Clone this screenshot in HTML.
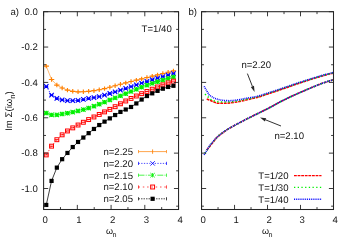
<!DOCTYPE html>
<html><head><meta charset="utf-8"><title>plot</title>
<style>
html,body{margin:0;padding:0;background:#fff;}
body{width:350px;height:246px;overflow:hidden;}
.t{font-family:"Liberation Sans",sans-serif;font-size:9.6px;fill:#141414;text-rendering:geometricPrecision;}
</style></head><body>
<div style="will-change:transform;position:absolute;left:0;top:0;width:350px;height:246px">
<svg width="350" height="246" viewBox="0 0 350 246" style="display:block">
<defs><clipPath id="cl"><rect x="43.6" y="11.7" width="134.95000000000002" height="197.8"/></clipPath><clipPath id="cr"><rect x="201.55" y="11.7" width="131.95" height="197.8"/></clipPath></defs>
<path d="M46.25 66.13L51.55 79.53L56.85 85.06L62.15 88.04L67.45 90.11L72.75 91.31L78.05 91.80L83.35 91.70L88.65 91.30L93.95 90.69L99.24 89.79L104.54 88.59L109.84 87.21L115.14 85.73L120.44 84.28L125.74 82.90L131.04 81.54L136.34 80.19L141.64 78.85L146.94 77.52L152.24 76.18L157.54 74.85L162.84 73.53L168.14 72.22L173.44 70.91" stroke="#ff8000" stroke-width="0.55" fill="none"/>
<path d="M43.55 66.13H48.95M46.25 63.93V68.33" stroke="#ff8000" stroke-width="1.15" fill="none"/>
<path d="M48.85 79.53H54.25M51.55 77.33V81.73" stroke="#ff8000" stroke-width="1.15" fill="none"/>
<path d="M54.15 85.06H59.55M56.85 82.86V87.26" stroke="#ff8000" stroke-width="1.15" fill="none"/>
<path d="M59.45 88.04H64.85M62.15 85.84V90.24" stroke="#ff8000" stroke-width="1.15" fill="none"/>
<path d="M64.75 90.11H70.15M67.45 87.91V92.31" stroke="#ff8000" stroke-width="1.15" fill="none"/>
<path d="M70.05 91.31H75.45M72.75 89.11V93.51" stroke="#ff8000" stroke-width="1.15" fill="none"/>
<path d="M75.35 91.80H80.75M78.05 89.60V94.00" stroke="#ff8000" stroke-width="1.15" fill="none"/>
<path d="M80.65 91.70H86.05M83.35 89.50V93.90" stroke="#ff8000" stroke-width="1.15" fill="none"/>
<path d="M85.95 91.30H91.35M88.65 89.10V93.50" stroke="#ff8000" stroke-width="1.15" fill="none"/>
<path d="M91.25 90.69H96.65M93.95 88.49V92.89" stroke="#ff8000" stroke-width="1.15" fill="none"/>
<path d="M96.54 89.79H101.94M99.24 87.59V91.99" stroke="#ff8000" stroke-width="1.15" fill="none"/>
<path d="M101.84 88.59H107.24M104.54 86.39V90.79" stroke="#ff8000" stroke-width="1.15" fill="none"/>
<path d="M107.14 87.21H112.54M109.84 85.01V89.41" stroke="#ff8000" stroke-width="1.15" fill="none"/>
<path d="M112.44 85.73H117.84M115.14 83.53V87.93" stroke="#ff8000" stroke-width="1.15" fill="none"/>
<path d="M117.74 84.28H123.14M120.44 82.08V86.48" stroke="#ff8000" stroke-width="1.15" fill="none"/>
<path d="M123.04 82.90H128.44M125.74 80.70V85.10" stroke="#ff8000" stroke-width="1.15" fill="none"/>
<path d="M128.34 81.54H133.74M131.04 79.34V83.74" stroke="#ff8000" stroke-width="1.15" fill="none"/>
<path d="M133.64 80.19H139.04M136.34 77.99V82.39" stroke="#ff8000" stroke-width="1.15" fill="none"/>
<path d="M138.94 78.85H144.34M141.64 76.65V81.05" stroke="#ff8000" stroke-width="1.15" fill="none"/>
<path d="M144.24 77.52H149.64M146.94 75.32V79.72" stroke="#ff8000" stroke-width="1.15" fill="none"/>
<path d="M149.54 76.18H154.94M152.24 73.98V78.38" stroke="#ff8000" stroke-width="1.15" fill="none"/>
<path d="M154.84 74.85H160.24M157.54 72.65V77.05" stroke="#ff8000" stroke-width="1.15" fill="none"/>
<path d="M160.14 73.53H165.54M162.84 71.33V75.73" stroke="#ff8000" stroke-width="1.15" fill="none"/>
<path d="M165.44 72.22H170.84M168.14 70.02V74.42" stroke="#ff8000" stroke-width="1.15" fill="none"/>
<path d="M170.74 70.91H176.14M173.44 68.71V73.11" stroke="#ff8000" stroke-width="1.15" fill="none"/>
<path d="M46.25 86.32L51.55 95.18L56.85 98.33L62.15 99.82L67.45 100.60L72.75 100.70L78.05 100.30L83.35 99.46L88.65 98.43L93.95 97.56L99.24 96.59L104.54 95.19L109.84 93.50L115.14 91.84L120.44 90.16L125.74 88.42L131.04 86.64L136.34 84.85L141.64 83.10L146.94 81.42L152.24 79.78L157.54 78.15L162.84 76.57L168.14 75.08L173.44 73.71" stroke="#0000ff" stroke-width="0.75" fill="none" stroke-dasharray="1.3,1.4"/>
<path d="M44.00 84.07L48.50 88.57M44.00 88.57L48.50 84.07M44.35 86.32H48.15" stroke="#0000ff" stroke-width="1.15" fill="none"/>
<path d="M49.30 92.93L53.80 97.43M49.30 97.43L53.80 92.93M49.65 95.18H53.45" stroke="#0000ff" stroke-width="1.15" fill="none"/>
<path d="M54.60 96.08L59.10 100.58M54.60 100.58L59.10 96.08M54.95 98.33H58.75" stroke="#0000ff" stroke-width="1.15" fill="none"/>
<path d="M59.90 97.57L64.40 102.07M59.90 102.07L64.40 97.57M60.25 99.82H64.05" stroke="#0000ff" stroke-width="1.15" fill="none"/>
<path d="M65.20 98.35L69.70 102.85M65.20 102.85L69.70 98.35M65.55 100.60H69.35" stroke="#0000ff" stroke-width="1.15" fill="none"/>
<path d="M70.50 98.45L75.00 102.95M70.50 102.95L75.00 98.45M70.85 100.70H74.65" stroke="#0000ff" stroke-width="1.15" fill="none"/>
<path d="M75.80 98.05L80.30 102.55M75.80 102.55L80.30 98.05M76.15 100.30H79.95" stroke="#0000ff" stroke-width="1.15" fill="none"/>
<path d="M81.10 97.21L85.60 101.71M81.10 101.71L85.60 97.21M81.45 99.46H85.25" stroke="#0000ff" stroke-width="1.15" fill="none"/>
<path d="M86.40 96.18L90.90 100.68M86.40 100.68L90.90 96.18M86.75 98.43H90.55" stroke="#0000ff" stroke-width="1.15" fill="none"/>
<path d="M91.70 95.31L96.20 99.81M91.70 99.81L96.20 95.31M92.05 97.56H95.85" stroke="#0000ff" stroke-width="1.15" fill="none"/>
<path d="M96.99 94.34L101.49 98.84M96.99 98.84L101.49 94.34M97.34 96.59H101.14" stroke="#0000ff" stroke-width="1.15" fill="none"/>
<path d="M102.29 92.94L106.79 97.44M102.29 97.44L106.79 92.94M102.64 95.19H106.44" stroke="#0000ff" stroke-width="1.15" fill="none"/>
<path d="M107.59 91.25L112.09 95.75M107.59 95.75L112.09 91.25M107.94 93.50H111.74" stroke="#0000ff" stroke-width="1.15" fill="none"/>
<path d="M112.89 89.59L117.39 94.09M112.89 94.09L117.39 89.59M113.24 91.84H117.04" stroke="#0000ff" stroke-width="1.15" fill="none"/>
<path d="M118.19 87.91L122.69 92.41M118.19 92.41L122.69 87.91M118.54 90.16H122.34" stroke="#0000ff" stroke-width="1.15" fill="none"/>
<path d="M123.49 86.17L127.99 90.67M123.49 90.67L127.99 86.17M123.84 88.42H127.64" stroke="#0000ff" stroke-width="1.15" fill="none"/>
<path d="M128.79 84.39L133.29 88.89M128.79 88.89L133.29 84.39M129.14 86.64H132.94" stroke="#0000ff" stroke-width="1.15" fill="none"/>
<path d="M134.09 82.60L138.59 87.10M134.09 87.10L138.59 82.60M134.44 84.85H138.24" stroke="#0000ff" stroke-width="1.15" fill="none"/>
<path d="M139.39 80.85L143.89 85.35M139.39 85.35L143.89 80.85M139.74 83.10H143.54" stroke="#0000ff" stroke-width="1.15" fill="none"/>
<path d="M144.69 79.17L149.19 83.67M144.69 83.67L149.19 79.17M145.04 81.42H148.84" stroke="#0000ff" stroke-width="1.15" fill="none"/>
<path d="M149.99 77.53L154.49 82.03M149.99 82.03L154.49 77.53M150.34 79.78H154.14" stroke="#0000ff" stroke-width="1.15" fill="none"/>
<path d="M155.29 75.90L159.79 80.40M155.29 80.40L159.79 75.90M155.64 78.15H159.44" stroke="#0000ff" stroke-width="1.15" fill="none"/>
<path d="M160.59 74.32L165.09 78.82M160.59 78.82L165.09 74.32M160.94 76.57H164.74" stroke="#0000ff" stroke-width="1.15" fill="none"/>
<path d="M165.89 72.83L170.39 77.33M165.89 77.33L170.39 72.83M166.24 75.08H170.04" stroke="#0000ff" stroke-width="1.15" fill="none"/>
<path d="M171.19 71.46L175.69 75.96M171.19 75.96L175.69 71.46M171.54 73.71H175.34" stroke="#0000ff" stroke-width="1.15" fill="none"/>
<path d="M46.25 113.05L51.55 114.90L56.85 114.90L62.15 113.99L67.45 113.19L72.75 112.16L78.05 110.96L83.35 109.60L88.65 108.05L93.95 106.22L99.24 104.18L104.54 102.10L109.84 99.94L115.14 97.85L120.44 95.83L125.74 93.69L131.04 91.49L136.34 89.29L141.64 87.18L146.94 85.22L152.24 83.41L157.54 81.68L162.84 80.03L168.14 78.48L173.44 77.02" stroke="#00f000" stroke-width="0.75" fill="none" stroke-dasharray="6,1.2,1,1.2"/>
<path d="M44.05 110.85L48.45 115.25M44.05 115.25L48.45 110.85M43.75 113.05H48.75M46.25 110.85V115.25" stroke="#00f000" stroke-width="1.15" fill="none"/>
<path d="M49.35 112.70L53.75 117.10M49.35 117.10L53.75 112.70M49.05 114.90H54.05M51.55 112.70V117.10" stroke="#00f000" stroke-width="1.15" fill="none"/>
<path d="M54.65 112.70L59.05 117.10M54.65 117.10L59.05 112.70M54.35 114.90H59.35M56.85 112.70V117.10" stroke="#00f000" stroke-width="1.15" fill="none"/>
<path d="M59.95 111.79L64.35 116.19M59.95 116.19L64.35 111.79M59.65 113.99H64.65M62.15 111.79V116.19" stroke="#00f000" stroke-width="1.15" fill="none"/>
<path d="M65.25 110.99L69.65 115.39M65.25 115.39L69.65 110.99M64.95 113.19H69.95M67.45 110.99V115.39" stroke="#00f000" stroke-width="1.15" fill="none"/>
<path d="M70.55 109.96L74.95 114.36M70.55 114.36L74.95 109.96M70.25 112.16H75.25M72.75 109.96V114.36" stroke="#00f000" stroke-width="1.15" fill="none"/>
<path d="M75.85 108.76L80.25 113.16M75.85 113.16L80.25 108.76M75.55 110.96H80.55M78.05 108.76V113.16" stroke="#00f000" stroke-width="1.15" fill="none"/>
<path d="M81.15 107.40L85.55 111.80M81.15 111.80L85.55 107.40M80.85 109.60H85.85M83.35 107.40V111.80" stroke="#00f000" stroke-width="1.15" fill="none"/>
<path d="M86.45 105.85L90.85 110.25M86.45 110.25L90.85 105.85M86.15 108.05H91.15M88.65 105.85V110.25" stroke="#00f000" stroke-width="1.15" fill="none"/>
<path d="M91.75 104.02L96.15 108.42M91.75 108.42L96.15 104.02M91.45 106.22H96.45M93.95 104.02V108.42" stroke="#00f000" stroke-width="1.15" fill="none"/>
<path d="M97.04 101.98L101.44 106.38M97.04 106.38L101.44 101.98M96.74 104.18H101.74M99.24 101.98V106.38" stroke="#00f000" stroke-width="1.15" fill="none"/>
<path d="M102.34 99.90L106.74 104.30M102.34 104.30L106.74 99.90M102.04 102.10H107.04M104.54 99.90V104.30" stroke="#00f000" stroke-width="1.15" fill="none"/>
<path d="M107.64 97.74L112.04 102.14M107.64 102.14L112.04 97.74M107.34 99.94H112.34M109.84 97.74V102.14" stroke="#00f000" stroke-width="1.15" fill="none"/>
<path d="M112.94 95.65L117.34 100.05M112.94 100.05L117.34 95.65M112.64 97.85H117.64M115.14 95.65V100.05" stroke="#00f000" stroke-width="1.15" fill="none"/>
<path d="M118.24 93.63L122.64 98.03M118.24 98.03L122.64 93.63M117.94 95.83H122.94M120.44 93.63V98.03" stroke="#00f000" stroke-width="1.15" fill="none"/>
<path d="M123.54 91.49L127.94 95.89M123.54 95.89L127.94 91.49M123.24 93.69H128.24M125.74 91.49V95.89" stroke="#00f000" stroke-width="1.15" fill="none"/>
<path d="M128.84 89.29L133.24 93.69M128.84 93.69L133.24 89.29M128.54 91.49H133.54M131.04 89.29V93.69" stroke="#00f000" stroke-width="1.15" fill="none"/>
<path d="M134.14 87.09L138.54 91.49M134.14 91.49L138.54 87.09M133.84 89.29H138.84M136.34 87.09V91.49" stroke="#00f000" stroke-width="1.15" fill="none"/>
<path d="M139.44 84.98L143.84 89.38M139.44 89.38L143.84 84.98M139.14 87.18H144.14M141.64 84.98V89.38" stroke="#00f000" stroke-width="1.15" fill="none"/>
<path d="M144.74 83.02L149.14 87.42M144.74 87.42L149.14 83.02M144.44 85.22H149.44M146.94 83.02V87.42" stroke="#00f000" stroke-width="1.15" fill="none"/>
<path d="M150.04 81.21L154.44 85.61M150.04 85.61L154.44 81.21M149.74 83.41H154.74M152.24 81.21V85.61" stroke="#00f000" stroke-width="1.15" fill="none"/>
<path d="M155.34 79.48L159.74 83.88M155.34 83.88L159.74 79.48M155.04 81.68H160.04M157.54 79.48V83.88" stroke="#00f000" stroke-width="1.15" fill="none"/>
<path d="M160.64 77.83L165.04 82.23M160.64 82.23L165.04 77.83M160.34 80.03H165.34M162.84 77.83V82.23" stroke="#00f000" stroke-width="1.15" fill="none"/>
<path d="M165.94 76.28L170.34 80.68M165.94 80.68L170.34 76.28M165.64 78.48H170.64M168.14 76.28V80.68" stroke="#00f000" stroke-width="1.15" fill="none"/>
<path d="M171.24 74.82L175.64 79.22M171.24 79.22L175.64 74.82M170.94 77.02H175.94M173.44 74.82V79.22" stroke="#00f000" stroke-width="1.15" fill="none"/>
<path d="M46.25 154.91L51.55 146.17L56.85 139.71L62.15 134.84L67.45 130.97L72.75 127.87L78.05 125.02L83.35 122.26L88.65 119.58L93.95 116.98L99.24 114.45L104.54 111.90L109.84 109.37L115.14 106.69L120.44 103.78L125.74 100.98L131.04 98.43L136.34 96.00L141.64 93.67L146.94 91.43L152.24 89.20L157.54 86.98L162.84 84.85L168.14 82.88L173.44 81.14" stroke="#ff0000" stroke-width="0.75" fill="none" stroke-dasharray="1.5,2.8"/>
<rect x="44.30" y="152.96" width="3.90" height="3.90" stroke="#ff0000" stroke-width="1.0" fill="none"/><path d="M44.30 154.91H48.20" stroke="#ff0000" stroke-width="1.0"/>
<rect x="49.60" y="144.22" width="3.90" height="3.90" stroke="#ff0000" stroke-width="1.0" fill="none"/><path d="M49.60 146.17H53.50" stroke="#ff0000" stroke-width="1.0"/>
<rect x="54.90" y="137.76" width="3.90" height="3.90" stroke="#ff0000" stroke-width="1.0" fill="none"/><path d="M54.90 139.71H58.80" stroke="#ff0000" stroke-width="1.0"/>
<rect x="60.20" y="132.89" width="3.90" height="3.90" stroke="#ff0000" stroke-width="1.0" fill="none"/><path d="M60.20 134.84H64.10" stroke="#ff0000" stroke-width="1.0"/>
<rect x="65.50" y="129.02" width="3.90" height="3.90" stroke="#ff0000" stroke-width="1.0" fill="none"/><path d="M65.50 130.97H69.40" stroke="#ff0000" stroke-width="1.0"/>
<rect x="70.80" y="125.92" width="3.90" height="3.90" stroke="#ff0000" stroke-width="1.0" fill="none"/><path d="M70.80 127.87H74.70" stroke="#ff0000" stroke-width="1.0"/>
<rect x="76.10" y="123.07" width="3.90" height="3.90" stroke="#ff0000" stroke-width="1.0" fill="none"/><path d="M76.10 125.02H80.00" stroke="#ff0000" stroke-width="1.0"/>
<rect x="81.40" y="120.31" width="3.90" height="3.90" stroke="#ff0000" stroke-width="1.0" fill="none"/><path d="M81.40 122.26H85.30" stroke="#ff0000" stroke-width="1.0"/>
<rect x="86.70" y="117.63" width="3.90" height="3.90" stroke="#ff0000" stroke-width="1.0" fill="none"/><path d="M86.70 119.58H90.60" stroke="#ff0000" stroke-width="1.0"/>
<rect x="92.00" y="115.03" width="3.90" height="3.90" stroke="#ff0000" stroke-width="1.0" fill="none"/><path d="M92.00 116.98H95.90" stroke="#ff0000" stroke-width="1.0"/>
<rect x="97.29" y="112.50" width="3.90" height="3.90" stroke="#ff0000" stroke-width="1.0" fill="none"/><path d="M97.29 114.45H101.19" stroke="#ff0000" stroke-width="1.0"/>
<rect x="102.59" y="109.95" width="3.90" height="3.90" stroke="#ff0000" stroke-width="1.0" fill="none"/><path d="M102.59 111.90H106.49" stroke="#ff0000" stroke-width="1.0"/>
<rect x="107.89" y="107.42" width="3.90" height="3.90" stroke="#ff0000" stroke-width="1.0" fill="none"/><path d="M107.89 109.37H111.79" stroke="#ff0000" stroke-width="1.0"/>
<rect x="113.19" y="104.74" width="3.90" height="3.90" stroke="#ff0000" stroke-width="1.0" fill="none"/><path d="M113.19 106.69H117.09" stroke="#ff0000" stroke-width="1.0"/>
<rect x="118.49" y="101.83" width="3.90" height="3.90" stroke="#ff0000" stroke-width="1.0" fill="none"/><path d="M118.49 103.78H122.39" stroke="#ff0000" stroke-width="1.0"/>
<rect x="123.79" y="99.03" width="3.90" height="3.90" stroke="#ff0000" stroke-width="1.0" fill="none"/><path d="M123.79 100.98H127.69" stroke="#ff0000" stroke-width="1.0"/>
<rect x="129.09" y="96.48" width="3.90" height="3.90" stroke="#ff0000" stroke-width="1.0" fill="none"/><path d="M129.09 98.43H132.99" stroke="#ff0000" stroke-width="1.0"/>
<rect x="134.39" y="94.05" width="3.90" height="3.90" stroke="#ff0000" stroke-width="1.0" fill="none"/><path d="M134.39 96.00H138.29" stroke="#ff0000" stroke-width="1.0"/>
<rect x="139.69" y="91.72" width="3.90" height="3.90" stroke="#ff0000" stroke-width="1.0" fill="none"/><path d="M139.69 93.67H143.59" stroke="#ff0000" stroke-width="1.0"/>
<rect x="144.99" y="89.48" width="3.90" height="3.90" stroke="#ff0000" stroke-width="1.0" fill="none"/><path d="M144.99 91.43H148.89" stroke="#ff0000" stroke-width="1.0"/>
<rect x="150.29" y="87.25" width="3.90" height="3.90" stroke="#ff0000" stroke-width="1.0" fill="none"/><path d="M150.29 89.20H154.19" stroke="#ff0000" stroke-width="1.0"/>
<rect x="155.59" y="85.03" width="3.90" height="3.90" stroke="#ff0000" stroke-width="1.0" fill="none"/><path d="M155.59 86.98H159.49" stroke="#ff0000" stroke-width="1.0"/>
<rect x="160.89" y="82.90" width="3.90" height="3.90" stroke="#ff0000" stroke-width="1.0" fill="none"/><path d="M160.89 84.85H164.79" stroke="#ff0000" stroke-width="1.0"/>
<rect x="166.19" y="80.93" width="3.90" height="3.90" stroke="#ff0000" stroke-width="1.0" fill="none"/><path d="M166.19 82.88H170.09" stroke="#ff0000" stroke-width="1.0"/>
<rect x="171.49" y="79.19" width="3.90" height="3.90" stroke="#ff0000" stroke-width="1.0" fill="none"/><path d="M171.49 81.14H175.39" stroke="#ff0000" stroke-width="1.0"/>
<path d="M46.25 204.94L51.55 180.91L56.85 167.63L62.15 159.19L67.45 152.95L72.75 147.05L78.05 141.96L83.35 137.56L88.65 133.16L93.95 128.96L99.24 125.04L104.54 121.62L109.84 118.39L115.14 115.04L120.44 111.93L125.74 109.50L131.04 106.98L136.34 103.44L141.64 99.54L146.94 96.03L152.24 93.35L157.54 90.87L162.84 88.69L168.14 86.95L173.44 85.77" stroke="#000000" stroke-width="0.75" fill="none"/>
<rect x="44.15" y="202.84" width="4.20" height="4.20" fill="#000000"/>
<rect x="49.45" y="178.81" width="4.20" height="4.20" fill="#000000"/>
<rect x="54.75" y="165.53" width="4.20" height="4.20" fill="#000000"/>
<rect x="60.05" y="157.09" width="4.20" height="4.20" fill="#000000"/>
<rect x="65.35" y="150.85" width="4.20" height="4.20" fill="#000000"/>
<rect x="70.65" y="144.95" width="4.20" height="4.20" fill="#000000"/>
<rect x="75.95" y="139.86" width="4.20" height="4.20" fill="#000000"/>
<rect x="81.25" y="135.46" width="4.20" height="4.20" fill="#000000"/>
<rect x="86.55" y="131.06" width="4.20" height="4.20" fill="#000000"/>
<rect x="91.85" y="126.86" width="4.20" height="4.20" fill="#000000"/>
<rect x="97.14" y="122.94" width="4.20" height="4.20" fill="#000000"/>
<rect x="102.44" y="119.52" width="4.20" height="4.20" fill="#000000"/>
<rect x="107.74" y="116.29" width="4.20" height="4.20" fill="#000000"/>
<rect x="113.04" y="112.94" width="4.20" height="4.20" fill="#000000"/>
<rect x="118.34" y="109.83" width="4.20" height="4.20" fill="#000000"/>
<rect x="123.64" y="107.40" width="4.20" height="4.20" fill="#000000"/>
<rect x="128.94" y="104.88" width="4.20" height="4.20" fill="#000000"/>
<rect x="134.24" y="101.34" width="4.20" height="4.20" fill="#000000"/>
<rect x="139.54" y="97.44" width="4.20" height="4.20" fill="#000000"/>
<rect x="144.84" y="93.93" width="4.20" height="4.20" fill="#000000"/>
<rect x="150.14" y="91.25" width="4.20" height="4.20" fill="#000000"/>
<rect x="155.44" y="88.77" width="4.20" height="4.20" fill="#000000"/>
<rect x="160.74" y="86.59" width="4.20" height="4.20" fill="#000000"/>
<rect x="166.04" y="84.85" width="4.20" height="4.20" fill="#000000"/>
<rect x="171.34" y="83.67" width="4.20" height="4.20" fill="#000000"/>
<text x="133" y="155.0" text-anchor="end" class="t">n=2.25</text>
<path d="M138.5 151.6H166.5" stroke="#ff8000" stroke-width="0.7" fill="none"/>
<path d="M138.5 150.0V153.2M166.5 150.0V153.2" stroke="#ff8000" stroke-width="0.7" fill="none"/>
<path d="M152.60 149.40V153.80" stroke="#ff8000" stroke-width="0.85" fill="none"/>
<text x="133" y="166.8" text-anchor="end" class="t">n=2.20</text>
<path d="M138.5 163.4H166.5" stroke="#0000ff" stroke-width="0.7" fill="none" stroke-dasharray="1.3,1.4"/>
<path d="M138.5 161.8V165.0M166.5 161.8V165.0" stroke="#0000ff" stroke-width="0.7" fill="none"/>
<path d="M150.40 161.20L154.80 165.60M150.40 165.60L154.80 161.20" stroke="#0000ff" stroke-width="0.85" fill="none"/>
<text x="133" y="178.6" text-anchor="end" class="t">n=2.15</text>
<path d="M138.5 175.2H166.5" stroke="#00f000" stroke-width="0.7" fill="none" stroke-dasharray="6,1.2,1,1.2"/>
<path d="M138.5 173.6V176.79999999999998M166.5 173.6V176.79999999999998" stroke="#00f000" stroke-width="0.7" fill="none"/>
<path d="M150.40 173.00L154.80 177.40M150.40 177.40L154.80 173.00M152.60 173.00V177.40" stroke="#00f000" stroke-width="0.85" fill="none"/>
<text x="133" y="190.4" text-anchor="end" class="t">n=2.10</text>
<path d="M138.5 187.0H166.5" stroke="#ff0000" stroke-width="0.7" fill="none" stroke-dasharray="1.5,2.8"/>
<path d="M138.5 185.4V188.6M166.5 185.4V188.6" stroke="#ff0000" stroke-width="0.7" fill="none"/>
<rect x="150.65" y="185.05" width="3.90" height="3.90" stroke="#ff0000" stroke-width="1.0" fill="none"/>
<text x="133" y="202.2" text-anchor="end" class="t">n=2.05</text>
<path d="M138.5 198.8H166.5" stroke="#000000" stroke-width="0.7" fill="none" stroke-dasharray="1.5,1.0"/>
<path d="M138.5 197.20000000000002V200.4M166.5 197.20000000000002V200.4" stroke="#000000" stroke-width="0.7" fill="none"/>
<rect x="150.50" y="196.70" width="4.20" height="4.20" fill="#000000"/>
<path d="M206.73 99.00L217.09 103.23L227.46 103.23L237.82 101.90L248.18 99.48L258.55 97.13L268.91 93.64L279.27 90.16L289.64 86.52L300.00 82.95L310.36 79.60L320.73 76.40L331.09 73.66L341.45 71.16" stroke="#ff0000" stroke-width="1.6" fill="none" stroke-dasharray="2.8,0.8" clip-path="url(#cr)"/>
<path d="M206.73 150.24L217.09 137.12L227.46 129.35L237.82 123.63L248.18 118.27L258.55 113.17L268.91 108.06L279.27 102.34L289.64 97.20L300.00 92.54L310.36 88.08L320.73 83.84L331.09 80.40L341.45 77.78" stroke="#ff0000" stroke-width="1.6" fill="none" stroke-dasharray="2.8,0.8" clip-path="url(#cr)"/>
<path d="M205.00 94.09L211.91 100.45L218.82 101.96L225.73 102.05L232.64 101.68L239.55 100.64L246.46 99.11L253.37 97.83L260.28 96.07L267.18 93.77L274.09 91.50L281.00 89.16L287.91 86.75L294.82 84.34L301.73 82.04L308.64 79.83L315.55 77.65L322.46 75.60L329.36 73.77L336.27 72.19" stroke="#00f000" stroke-width="1.6" fill="none" stroke-dasharray="1.3,2.4" clip-path="url(#cr)"/>
<path d="M205.00 153.29L211.91 142.71L218.82 135.57L225.73 130.41L232.64 126.45L239.55 122.71L246.46 119.14L253.37 115.71L260.28 112.32L267.18 108.94L274.09 105.24L281.00 101.42L287.91 98.02L294.82 94.83L301.73 91.79L308.64 88.82L315.55 85.90L322.46 83.20L329.36 80.88L336.27 79.07" stroke="#00f000" stroke-width="1.6" fill="none" stroke-dasharray="1.3,2.4" clip-path="url(#cr)"/>
<path d="M204.14 86.32L209.32 95.18L214.50 98.33L219.69 99.82L224.87 100.60L230.05 100.70L235.23 100.30L240.41 99.46L245.59 98.43L250.78 97.56L255.96 96.59L261.14 95.19L266.32 93.50L271.50 91.84L276.68 90.16L281.87 88.42L287.05 86.64L292.23 84.85L297.41 83.10L302.59 81.42L307.77 79.78L312.96 78.15L318.14 76.57L323.32 75.08L328.50 73.71L333.68 72.55" stroke="#0000ff" stroke-width="1.6" fill="none" stroke-dasharray="0.95,0.92" clip-path="url(#cr)"/>
<path d="M204.14 154.91L209.32 146.17L214.50 139.71L219.69 134.84L224.87 130.97L230.05 127.87L235.23 125.02L240.41 122.26L245.59 119.58L250.78 116.98L255.96 114.45L261.14 111.90L266.32 109.37L271.50 106.69L276.68 103.78L281.87 100.98L287.05 98.43L292.23 96.00L297.41 93.67L302.59 91.43L307.77 89.20L312.96 86.98L318.14 84.85L323.32 82.88L328.50 81.14L333.68 79.74" stroke="#0000ff" stroke-width="1.6" fill="none" stroke-dasharray="0.95,0.92" clip-path="url(#cr)"/>
<text x="288.5" y="179.0" text-anchor="end" class="t">T=1/20</text>
<path d="M294 175.6H321.5" stroke="#ff0000" stroke-width="1.4" fill="none" stroke-dasharray="2.8,0.8"/>
<text x="288.5" y="190.8" text-anchor="end" class="t">T=1/30</text>
<path d="M294 187.4H321.5" stroke="#00f000" stroke-width="1.4" fill="none" stroke-dasharray="1.3,2.4"/>
<text x="288.5" y="202.7" text-anchor="end" class="t">T=1/40</text>
<path d="M294 199.3H321.5" stroke="#0000ff" stroke-width="1.4" fill="none" stroke-dasharray="0.95,0.92"/>
<rect x="43.6" y="11.7" width="134.95000000000002" height="197.8" fill="none" stroke="#262626" stroke-width="1.05"/>
<path d="M43.60 209.5v-4.6M43.60 11.7v4.6M60.47 209.5v-2.4M60.47 11.7v2.4M77.34 209.5v-4.6M77.34 11.7v4.6M94.21 209.5v-2.4M94.21 11.7v2.4M111.08 209.5v-4.6M111.08 11.7v4.6M127.94 209.5v-2.4M127.94 11.7v2.4M144.81 209.5v-4.6M144.81 11.7v4.6M161.68 209.5v-2.4M161.68 11.7v2.4M178.55 209.5v-4.6M178.55 11.7v4.6M43.6 11.70h4.6M178.55 11.70h-4.6M43.6 29.38h2.4M178.55 29.38h-2.4M43.6 47.06h4.6M178.55 47.06h-4.6M43.6 64.74h2.4M178.55 64.74h-2.4M43.6 82.42h4.6M178.55 82.42h-4.6M43.6 100.10h2.4M178.55 100.10h-2.4M43.6 117.78h4.6M178.55 117.78h-4.6M43.6 135.46h2.4M178.55 135.46h-2.4M43.6 153.14h4.6M178.55 153.14h-4.6M43.6 170.82h2.4M178.55 170.82h-2.4M43.6 188.50h4.6M178.55 188.50h-4.6M43.6 206.18h2.4M178.55 206.18h-2.4" stroke="#262626" stroke-width="0.9" fill="none"/>
<rect x="201.55" y="11.7" width="131.95" height="197.8" fill="none" stroke="#262626" stroke-width="1.05"/>
<path d="M201.55 209.5v-4.6M201.55 11.7v4.6M218.04 209.5v-2.4M218.04 11.7v2.4M234.54 209.5v-4.6M234.54 11.7v4.6M251.03 209.5v-2.4M251.03 11.7v2.4M267.52 209.5v-4.6M267.52 11.7v4.6M284.02 209.5v-2.4M284.02 11.7v2.4M300.51 209.5v-4.6M300.51 11.7v4.6M317.01 209.5v-2.4M317.01 11.7v2.4M333.50 209.5v-4.6M333.50 11.7v4.6M201.55 11.70h4.6M333.5 11.70h-4.6M201.55 29.38h2.4M333.5 29.38h-2.4M201.55 47.06h4.6M333.5 47.06h-4.6M201.55 64.74h2.4M333.5 64.74h-2.4M201.55 82.42h4.6M333.5 82.42h-4.6M201.55 100.10h2.4M333.5 100.10h-2.4M201.55 117.78h4.6M333.5 117.78h-4.6M201.55 135.46h2.4M333.5 135.46h-2.4M201.55 153.14h4.6M333.5 153.14h-4.6M201.55 170.82h2.4M333.5 170.82h-2.4M201.55 188.50h4.6M333.5 188.50h-4.6M201.55 206.18h2.4M333.5 206.18h-2.4" stroke="#262626" stroke-width="0.9" fill="none"/>
<text x="45.2" y="222.8" text-anchor="middle" class="t">0</text>
<text x="203.2" y="222.8" text-anchor="middle" class="t">0</text>
<text x="78.9" y="222.8" text-anchor="middle" class="t">1</text>
<text x="236.1" y="222.8" text-anchor="middle" class="t">1</text>
<text x="112.7" y="222.8" text-anchor="middle" class="t">2</text>
<text x="269.1" y="222.8" text-anchor="middle" class="t">2</text>
<text x="146.4" y="222.8" text-anchor="middle" class="t">3</text>
<text x="302.1" y="222.8" text-anchor="middle" class="t">3</text>
<text x="180.2" y="222.8" text-anchor="middle" class="t">4</text>
<text x="335.1" y="222.8" text-anchor="middle" class="t">4</text>
<text x="37.8" y="15.0" text-anchor="end" class="t">0.0</text>
<text x="37.8" y="50.4" text-anchor="end" class="t">-0.2</text>
<text x="37.8" y="85.7" text-anchor="end" class="t">-0.4</text>
<text x="37.8" y="121.1" text-anchor="end" class="t">-0.6</text>
<text x="37.8" y="156.4" text-anchor="end" class="t">-0.8</text>
<text x="37.8" y="191.8" text-anchor="end" class="t">-1.0</text>
<text x="106" y="234.1" class="t" style="font-size:9px">ω</text><text x="112.4" y="237.0" class="t" style="font-size:7.2px">n</text>
<text x="262.0" y="234.1" class="t" style="font-size:9px">ω</text><text x="268.4" y="237.0" class="t" style="font-size:7.2px">n</text>
<text transform="translate(12.4,130.8) rotate(-90)" class="t">Im Σ(iω<tspan dy="2.6" font-size="7.6">n</tspan><tspan dy="-2.6">)</tspan></text>
<text x="10.4" y="14.9" class="t">a)</text>
<text x="188.4" y="14.9" class="t">b)</text>
<text x="141.6" y="32.3" class="t">T=1/40</text>
<text x="241.4" y="68.0" class="t">n=2.20</text>
<text x="274.4" y="138.6" class="t">n=2.10</text>
<path d="M247.40 73.60L252.41 86.41" stroke="#262626" stroke-width="0.95" fill="none"/>
<path d="M254.60 92.00L250.83 87.03L254.00 85.79Z" fill="#262626"/>
<path d="M281.00 126.00L265.57 119.83" stroke="#262626" stroke-width="0.95" fill="none"/>
<path d="M260.00 117.60L266.20 118.25L264.94 121.41Z" fill="#262626"/>
</svg>
</div>
</body></html>
